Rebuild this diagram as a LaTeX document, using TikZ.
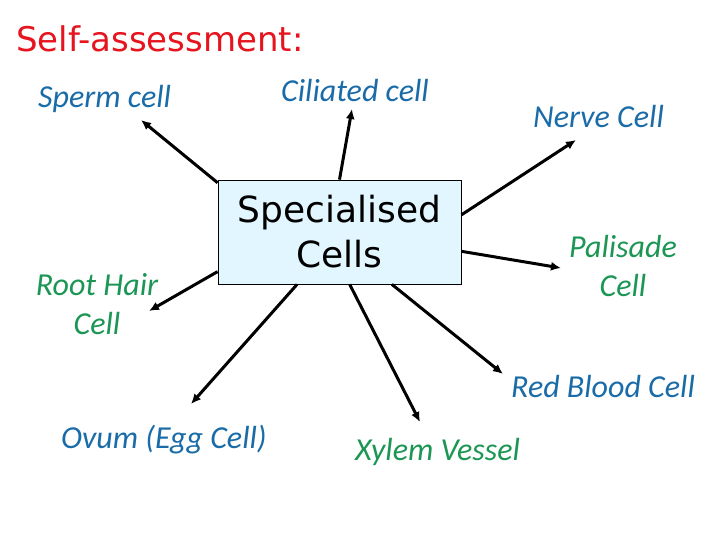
\documentclass[tikz,border=0pt]{standalone}
\usepackage{fontspec}
\usepackage{xcolor}
\usetikzlibrary{positioning, arrows.meta}
\newfontfamily\labelfont{Carlito}
\newfontfamily\headfont{DejaVu Sans}
\definecolor{lblblue}{RGB}{26,108,168}
\definecolor{lblgreen}{RGB}{28,150,84}
\definecolor{titlered}{RGB}{230,20,30}
\definecolor{boxfill}{RGB}{225,246,254}
\tikzset{
  bluelbl/.style={font=\labelfont\itshape\fontsize{32}{39}\selectfont, text=lblblue, inner sep=0pt, align=center},
  greenlbl/.style={font=\labelfont\itshape\fontsize{32}{39}\selectfont, text=lblgreen, inner sep=0pt, align=center},
  cellarrow/.style={-{Latex[length=10pt,width=9pt]}, line width=3pt, black}
}
\begin{document}
\begin{tikzpicture}[x=1pt, y=-1pt]
    \useasboundingbox[fill=white] (0,0) rectangle (720,540);
    % Title
    \node[font=\headfont\fontsize{34}{40}\selectfont, text=titlered, anchor=base west, inner sep=0pt] (title) at (16,52) {Self-assessment:};
    % Central box
    \node[draw, fill=boxfill, line width=0.8pt, minimum width=243pt, minimum height=104pt,
          inner sep=0pt, align=center, font=\headfont\fontsize{36}{45}\selectfont] (spec) at (339.5,232)
          {Specialised\\Cells};
    % Cell labels
    \node[bluelbl, anchor=base west] (sperm) at (38,108) {Sperm cell};
    \node[bluelbl, anchor=base west] (cilia) at (281,102) {Ciliated cell};
    \node[bluelbl, anchor=base west] (nerve) at (533,128) {Nerve Cell};
    \node[greenlbl] (palisade) at (623,266) {Palisade\\Cell};
    \node[greenlbl] (roothair) at (97,304) {Root Hair\\Cell};
    \node[bluelbl, anchor=base west] (rbc) at (511,397) {Red Blood Cell};
    \node[bluelbl, anchor=base west] (ovum) at (61,448) {Ovum (Egg Cell)};
    \node[greenlbl, anchor=base west] (xylem) at (355,460) {Xylem Vessel};
    % Arrow tips
    \coordinate (tsperm) at (141,120);
    \coordinate (tcilia) at (352,109);
    \coordinate (tnerve) at (576,140);
    \coordinate (tpalisade) at (561,268);
    \coordinate (trbc) at (503,374);
    \coordinate (txylem) at (420,422);
    \coordinate (tovum) at (191,404);
    \coordinate (troothair) at (149,311);
    % Arrows from the box
    \draw[cellarrow] (spec.158) -- (tsperm);
    \draw[cellarrow] (spec.north) -- (tcilia);
    \draw[cellarrow] (spec.8) -- (tnerve);
    \draw[cellarrow] (spec.-9) -- (tpalisade);
    \draw[cellarrow] (spec.-45) -- (trbc);
    \draw[cellarrow] (spec.-79) -- (txylem);
    \draw[cellarrow] (spec.231) -- (tovum);
    \draw[cellarrow] (spec.198) -- (troothair);
\end{tikzpicture}
\end{document}
